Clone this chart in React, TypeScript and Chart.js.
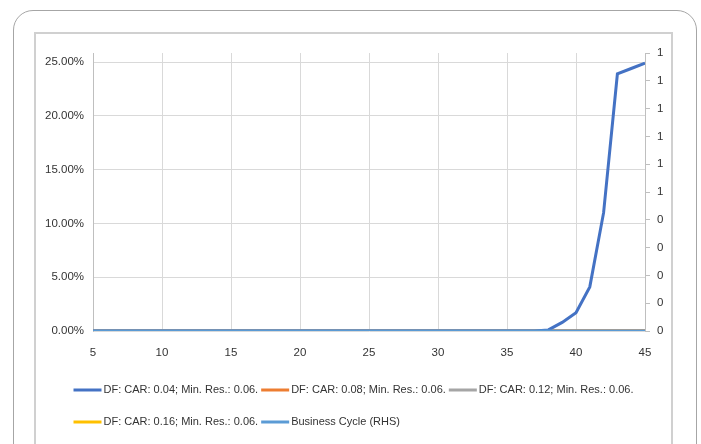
import React, { useEffect, useRef } from "react";
import { Chart, registerables } from "chart.js";

Chart.register(...registerables);

// ---- data ----
const X_VALUES = [5, 6, 7, 8, 9, 10, 11, 12, 13, 14, 15, 16, 17, 18, 19, 20, 21, 22, 23, 24, 25, 26, 27, 28, 29, 30, 31, 32, 33, 34, 35, 36, 37, 38, 39, 40, 41, 42, 43, 44, 45];

const DF_CAR_004 = [0, 0, 0, 0, 0, 0, 0, 0, 0, 0, 0, 0, 0, 0, 0, 0, 0, 0, 0, 0, 0, 0, 0, 0, 0, 0, 0, 0, 0, 0, 0, 0, 0, 0.001, 0.008, 0.017, 0.041, 0.11, 0.239, 0.244, 0.249];
const DF_CAR_008 = [0, 0, 0, 0, 0, 0, 0, 0, 0, 0, 0, 0, 0, 0, 0, 0, 0, 0, 0, 0, 0, 0, 0, 0, 0, 0, 0, 0, 0, 0, 0, 0, 0, 0, 0, 0, 0, 0, 0, 0, 0];
const DF_CAR_012 = [0, 0, 0, 0, 0, 0, 0, 0, 0, 0, 0, 0, 0, 0, 0, 0, 0, 0, 0, 0, 0, 0, 0, 0, 0, 0, 0, 0, 0, 0, 0, 0, 0, 0, 0, 0, 0, 0, 0, 0, 0];
const DF_CAR_016 = [0, 0, 0, 0, 0, 0, 0, 0, 0, 0, 0, 0, 0, 0, 0, 0, 0, 0, 0, 0, 0, 0, 0, 0, 0, 0, 0, 0, 0, 0, 0, 0, 0, 0, 0, 0, 0, 0, 0, 0, 0];
const BUSINESS_CYCLE = [0, 0, 0, 0, 0, 0, 0, 0, 0, 0, 0, 0, 0, 0, 0, 0, 0, 0, 0, 0, 0, 0, 0, 0, 0, 0, 0, 0, 0, 0, 0, 0, 0, 0, 0, 0, 0, 0, 0, 0, 0];

const SERIES_LABELS = [
  "DF: CAR: 0.04; Min. Res.: 0.06.",
  "DF: CAR: 0.08; Min. Res.: 0.06.",
  "DF: CAR: 0.12; Min. Res.: 0.06.",
  "DF: CAR: 0.16; Min. Res.: 0.06.",
  "Business Cycle (RHS)",
];
const SERIES_COLORS = ["#4472c4", "#ed7d31", "#a5a5a5", "#ffc000", "#5b9bd5"];

const RHS_TICK_LABELS = ["0", "0", "0", "0", "0", "1", "1", "1", "1", "1", "1"];

const FONT_FAMILY = "'Liberation Sans', Arial, sans-serif";
const TEXT_COLOR = "#333333";
const AXIS_FONT_SIZE = 11.5;
const LEGEND_FONT_SIZE = 11;

const toPoints = (ys: number[]) => X_VALUES.map((x, i) => ({ x, y: ys[i] }));

const excelLegend = {
  id: "excelLegend",
  afterDraw(chart: any) {
    const ctx = chart.ctx as CanvasRenderingContext2D;
    const lineW = 28;
    const gapText = 2;
    const gapItem = 3;
    ctx.save();
    ctx.font = `${LEGEND_FONT_SIZE}px ${FONT_FAMILY}`;
    const items = chart.data.datasets.map((ds: any) => ({
      label: ds.label as string,
      color: ds.borderColor as string,
      w: lineW + gapText + ctx.measureText(ds.label).width,
    }));
    const maxW = chart.width - 40;
    const rows: any[][] = [];
    let cur: any[] = [];
    let curW = 0;
    items.forEach((it: any) => {
      const add = (cur.length ? gapItem : 0) + it.w;
      if (cur.length && curW + add > maxW) {
        rows.push(cur);
        cur = [];
        curW = 0;
      }
      curW += (cur.length ? gapItem : 0) + it.w;
      cur.push(it);
    });
    if (cur.length) rows.push(cur);
    const rowW = rows.map((r) => r.reduce((s, it, i) => s + it.w + (i ? gapItem : 0), 0));
    const blockW = Math.max(...rowW);
    const x0 = (chart.width - blockW) / 2;
    rows.forEach((row, r) => {
      const y = chart.chartArea.bottom + 59 + r * 32;
      let x = x0;
      row.forEach((it: any) => {
        ctx.beginPath();
        ctx.strokeStyle = it.color;
        ctx.lineWidth = 3;
        ctx.moveTo(x, y);
        ctx.lineTo(x + lineW, y);
        ctx.stroke();
        ctx.fillStyle = TEXT_COLOR;
        ctx.textBaseline = "middle";
        ctx.textAlign = "left";
        ctx.fillText(it.label, x + lineW + gapText, y);
        x += it.w + gapItem;
      });
    });
    ctx.restore();
  },
};

export default function App() {
  const canvasRef = useRef<HTMLCanvasElement | null>(null);

  useEffect(() => {
    if (!canvasRef.current) return;
    Chart.defaults.font.family = FONT_FAMILY;
    Chart.defaults.font.size = AXIS_FONT_SIZE;
    Chart.defaults.color = TEXT_COLOR;
    const seriesData = [DF_CAR_004, DF_CAR_008, DF_CAR_012, DF_CAR_016, BUSINESS_CYCLE];
    const chart = new Chart(canvasRef.current, {
      type: "line",
      data: {
        datasets: seriesData.map((d, i) => ({
          label: SERIES_LABELS[i],
          data: toPoints(d),
          borderColor: SERIES_COLORS[i],
          backgroundColor: SERIES_COLORS[i],
          borderWidth: 3,
          pointRadius: 0,
          tension: 0,
          yAxisID: i === 4 ? "y1" : "y",
          order: i === 4 ? 0 : i + 1,
        })),
      },
      options: {
        animation: false,
        responsive: false,
        devicePixelRatio: 1,
        layout: { padding: { top: 19, left: 0, right: 0, bottom: 80 } },
        plugins: {
          legend: { display: false },
          tooltip: { enabled: false },
        },
        scales: {
          x: {
            type: "linear",
            min: 5,
            max: 45,
            ticks: { stepSize: 5, padding: 15, color: TEXT_COLOR, font: { size: AXIS_FONT_SIZE } },
            grid: { color: "#d9d9d9", drawTicks: false, lineWidth: 1 },
            border: { display: false },
            afterFit: (s: any) => {
              s.height = 33;
            },
          },
          y: {
            type: "linear",
            position: "left",
            min: 0,
            max: 0.2584,
            ticks: {
              stepSize: 0.05,
              includeBounds: false,
              padding: 9,
              color: TEXT_COLOR,
              font: { size: AXIS_FONT_SIZE },
              callback: (v: any) => (Number(v) * 100).toFixed(2) + "%",
            },
            grid: { color: "#d9d9d9", drawTicks: false },
            border: { display: true, color: "#bfbfbf", width: 1 },
            afterFit: (s: any) => {
              s.width = 57;
            },
          },
          y1: {
            type: "linear",
            position: "right",
            min: 0,
            max: 1,
            ticks: {
              stepSize: 0.1,
              padding: 7,
              color: TEXT_COLOR,
              font: { size: AXIS_FONT_SIZE },
              callback: (_v: any, i: number) => RHS_TICK_LABELS[i],
            },
            grid: { drawOnChartArea: false, drawTicks: true, tickLength: 5, color: "#bfbfbf" },
            border: { display: true, color: "#bfbfbf", width: 1 },
            afterFit: (s: any) => {
              s.width = 26;
            },
          },
        },
      },
      plugins: [excelLegend],
    } as any);
    return () => chart.destroy();
  }, []);

  return (
    <div style={{ position: "absolute", left: 0, top: 0, width: 701, height: 444, overflow: "hidden", background: "#fff" }}>
      <div
        style={{
          position: "absolute",
          left: 13,
          top: 10,
          width: 684,
          height: 520,
          border: "1.5px solid #a6a6a6",
          borderRadius: 20,
          boxSizing: "border-box",
        }}
      />
      <div
        style={{
          position: "absolute",
          left: 34,
          top: 32,
          width: 639,
          height: 520,
          border: "2px solid #d0d0d0",
          boxSizing: "border-box",
          background: "#fff",
        }}
      />
      <canvas
        ref={canvasRef}
        width={635}
        height={410}
        style={{ position: "absolute", left: 36, top: 34, width: 635, height: 410 }}
      />
    </div>
  );
}
